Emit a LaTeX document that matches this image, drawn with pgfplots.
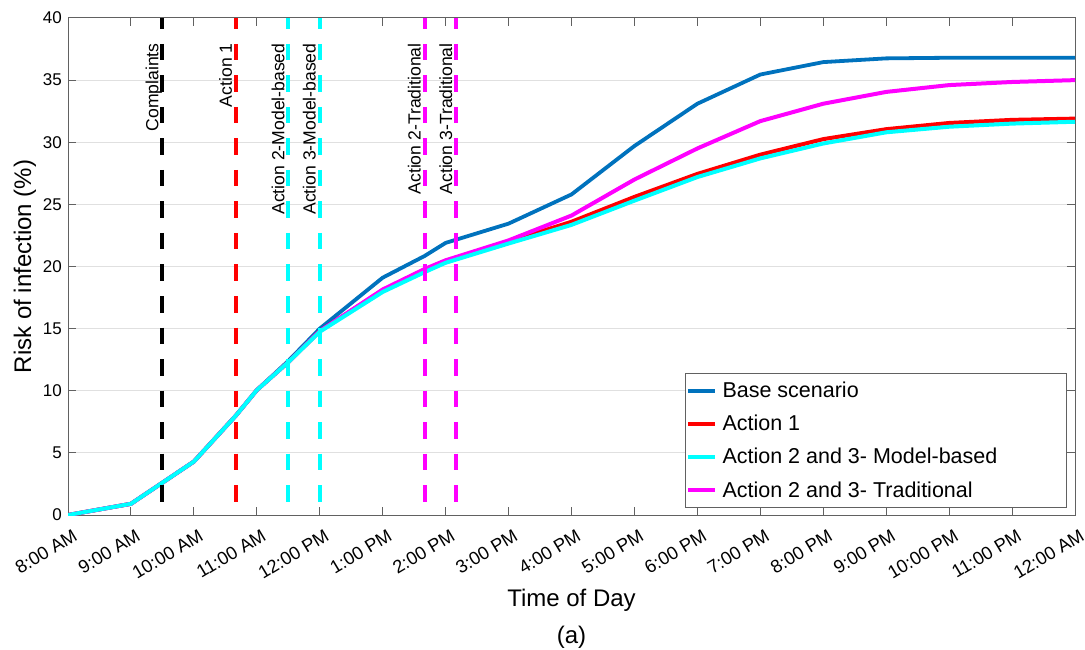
\documentclass[border=0pt]{standalone}
\usepackage{pgfplots}
\pgfplotsset{compat=1.18}
\usepackage{fontspec}
\setmainfont{Liberation Sans}
\usetikzlibrary{calc}
\definecolor{mblue}{rgb}{0,0.447,0.741}
\definecolor{mred}{rgb}{1,0,0}
\definecolor{mcyan}{rgb}{0,1,1}
\definecolor{mmag}{rgb}{1,0,1}
\definecolor{axgray}{rgb}{0.38,0.38,0.38}
\definecolor{gridgray}{rgb}{0.88,0.88,0.88}
\newcommand{\lgw}[1]{\makebox[341pt][l]{#1}}
\begin{document}
\begin{tikzpicture}
\begin{axis}[
  name=ax,
  scale only axis,
  width=1007pt, height=497pt,
  xmin=0, xmax=16, ymin=0, ymax=40,
  xtick={0,1,...,16},
  xticklabels={8:00 AM,9:00 AM,10:00 AM,11:00 AM,12:00 PM,1:00 PM,2:00 PM,3:00 PM,4:00 PM,5:00 PM,6:00 PM,7:00 PM,8:00 PM,9:00 PM,10:00 PM,11:00 PM,12:00 AM},
  ytick={0,5,...,40},
  ymajorgrids,
  major grid style={gridgray, line width=1pt},
  axis line style={axgray, line width=1pt},
  tick style={axgray, line width=1pt},
  major tick length=8pt,
  tick align=inside,
  /pgf/number format/assume math mode=true,
  xticklabel style={font=\fontsize{18.3}{20}\selectfont, xshift=4pt, yshift=-13pt, rotate=31, anchor=north east, inner sep=0pt},
  yticklabel style={font=\fontsize{17}{19}\selectfont, inner sep=0pt, xshift=-6pt},
  xlabel={Time of Day},
  ylabel={Risk of infection (\%)},
  xlabel style={font=\fontsize{24}{28}\selectfont, at={(axis description cs:0.5,-0.171)}, anchor=center},
  ylabel style={font=\fontsize{24}{28}\selectfont, at={(axis description cs:-0.0427,0.5)}, anchor=center},
  legend cell align=left,
  legend style={at={(axis description cs:1,0)}, anchor=south east, xshift=-8pt, yshift=7pt,
    draw=axgray, line width=1pt, fill=white,
    font=\fontsize{21.5}{25}\selectfont, row sep=12pt, column sep=4pt, inner xsep=1pt, inner ysep=7pt},
  legend image code/.code={\draw[#1] (0pt,0pt) -- (26pt,0pt);},
]
% legend entries
\addlegendimage{mblue, line width=4pt}
\addlegendentry{\lgw{Base scenario}}
\addlegendimage{mred, line width=4pt}
\addlegendentry{\lgw{Action 1}}
\addlegendimage{mcyan, line width=4pt}
\addlegendentry{\lgw{Action 2 and 3- Model-based}}
\addlegendimage{mmag, line width=4pt}
\addlegendentry{\lgw{Action 2 and 3- Traditional}}
% Base scenario
\addplot[mblue, line width=3.8pt, forget plot] coordinates {
(0,0) (1,0.9) (1.5,2.6) (2,4.3) (2.667,8.0) (3,10.05) (3.5,12.4) (4,15.0)
(5,19.1) (5.667,20.85) (6,21.9) (7,23.45) (8,25.8) (9,29.7) (10,33.1)
(11,35.45) (12,36.45) (13,36.75) (14,36.8) (15,36.8) (16,36.8)};
% Action 1
\addplot[mred, line width=4pt, forget plot] coordinates {
(0,0) (1,0.9) (1.5,2.6) (2,4.3) (2.667,8.0) (3,10.05) (3.5,12.3) (4,14.8)
(5,18.1) (5.667,19.75) (6,20.45) (7,22.0) (8,23.6) (9,25.6) (10,27.45)
(11,29.0) (12,30.25) (13,31.05) (14,31.55) (15,31.8) (16,31.9)};
% Traditional
\addplot[mmag, line width=4pt, forget plot] coordinates {
(0,0) (1,0.9) (1.5,2.6) (2,4.3) (2.667,8.0) (3,10.05) (3.5,12.3) (4,14.8)
(5,18.15) (5.667,19.8) (6,20.5) (7,22.1) (8,24.1) (9,27.0) (10,29.5)
(11,31.7) (12,33.1) (13,34.05) (14,34.6) (15,34.85) (16,35.0)};
% Model-based
\addplot[mcyan, line width=4pt, forget plot] coordinates {
(0,0) (1,0.9) (1.5,2.6) (2,4.3) (2.667,8.0) (3,10.05) (3.5,12.3) (4,14.75)
(5,17.95) (5.667,19.55) (6,20.3) (7,21.85) (8,23.35) (9,25.3) (10,27.2)
(11,28.7) (12,29.9) (13,30.8) (14,31.25) (15,31.5) (16,31.65)};
% event lines
\addplot[black, line width=4pt, dash pattern=on 16.5pt off 15pt, dash phase=5.5pt, forget plot] coordinates {(1.5,40) (1.5,0)};
\addplot[mred, line width=4pt, dash pattern=on 16.5pt off 15pt, dash phase=5.5pt, forget plot] coordinates {(2.667,40) (2.667,0)};
\addplot[mcyan, line width=4pt, dash pattern=on 16.5pt off 15pt, dash phase=5.5pt, forget plot] coordinates {(3.5,40) (3.5,0)};
\addplot[mcyan, line width=4pt, dash pattern=on 16.5pt off 15pt, dash phase=5.5pt, forget plot] coordinates {(4,40) (4,0)};
\addplot[mmag, line width=4pt, dash pattern=on 16.5pt off 15pt, dash phase=5.5pt, forget plot] coordinates {(5.667,40) (5.667,0)};
\addplot[mmag, line width=4pt, dash pattern=on 16.5pt off 15pt, dash phase=5.5pt, forget plot] coordinates {(6.167,40) (6.167,0)};
% event labels
\begin{scope}[every node/.style={font=\fontsize{17.6}{20}\selectfont, rotate=90, anchor=base east, inner sep=0pt}]
\node at (axis cs:1.436,37.97) {Complaints};
\node at (axis cs:2.603,37.97) {Action 1};
\node at (axis cs:3.436,37.97) {Action 2-Model-based};
\node at (axis cs:3.936,37.97) {Action 3-Model-based};
\node at (axis cs:5.603,37.97) {Action 2-Traditional};
\node at (axis cs:6.103,37.97) {Action 3-Traditional};
\end{scope}
\end{axis}
\node[font=\fontsize{24}{28}\selectfont, anchor=center] at ($(ax.south)+(0,-122pt)$) {(a)};
\pgfresetboundingbox
\path[use as bounding box] ($(ax.south west)+(-68pt,-134pt)$) rectangle ($(ax.north east)+(10pt,18pt)$);
\end{tikzpicture}
\end{document}
